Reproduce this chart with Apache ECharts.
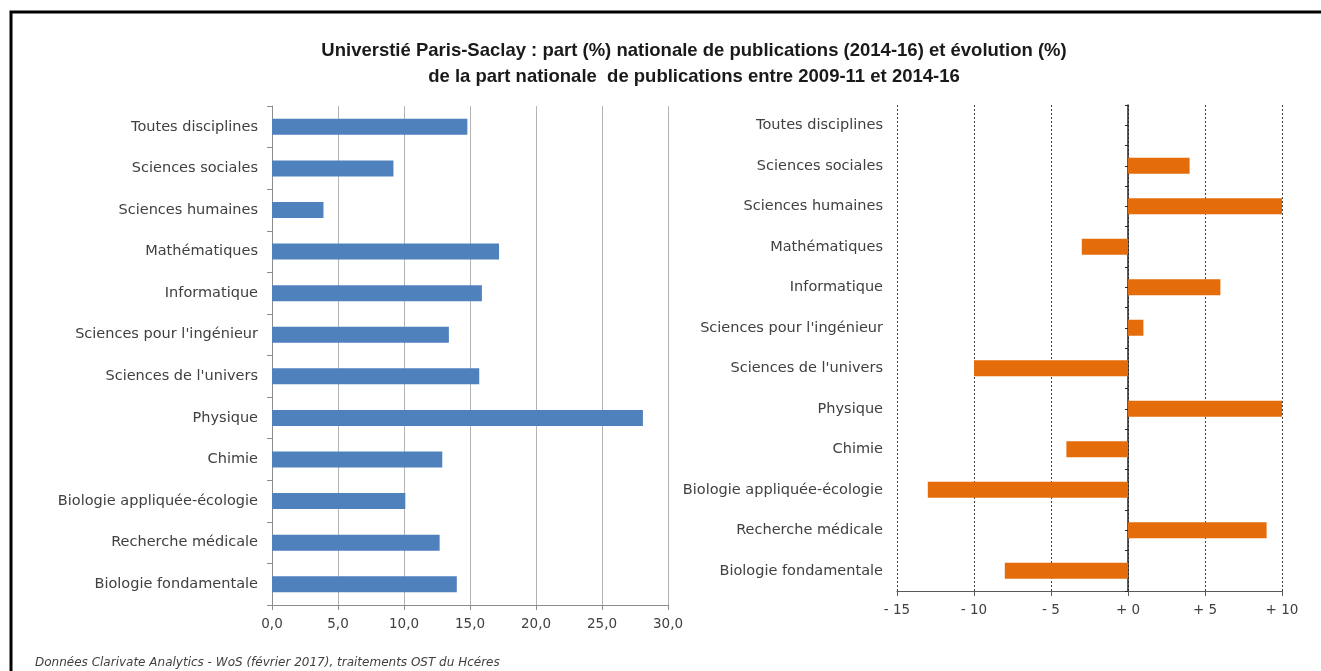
<!DOCTYPE html>
<html>
<head>
<meta charset="utf-8">
<script src="https://cdn.jsdelivr.net/npm/echarts@6/dist/echarts.min.js"></script>
<style>
  html, body { margin: 0; padding: 0; background: #fff; }
  #chart { width: 1321px; height: 671px; }
</style>
</head>
<body>
<div id="chart"></div>
<script>
// Disciplines, listed top to bottom
const disciplines = [
  'Toutes disciplines',
  'Sciences sociales',
  'Sciences humaines',
  'Mathématiques',
  'Informatique',
  "Sciences pour l'ingénieur",
  "Sciences de l'univers",
  'Physique',
  'Chimie',
  'Biologie appliquée-écologie',
  'Recherche médicale',
  'Biologie fondamentale'
];
// National share of publications (%), 2014-16
const shareValues = [14.8, 9.2, 3.9, 17.2, 15.9, 13.4, 15.7, 28.1, 12.9, 10.1, 12.7, 14.0];
// Change (%) of the national share between 2009-11 and 2014-16
const changeValues = [0, 4, 10, -3, 6, 1, -10, 10, -4, -13, 9, -8];

// Tick labels of both value axes
const shareTicks = ['0,0', '5,0', '10,0', '15,0', '20,0', '25,0', '30,0'];
const changeTicks = ['- 15', '- 10', '- 5', '+ 0', '+ 5', '+ 10'];

const titleLines = [
  'Universtié Paris-Saclay : part (%) nationale de publications (2014-16) et évolution (%)',
  'de la part nationale  de publications entre 2009-11 et 2014-16'
];
const sourceNote = 'Données Clarivate Analytics - WoS (février 2017), traitements OST du Hcéres';

const labelFont = '"DejaVu Sans", sans-serif';
const textColor = '#404040';

// category axes run top to bottom
const cats = disciplines.slice().reverse();
const shareData = shareValues.slice().reverse();
const changeData = changeValues.slice().reverse();
const halfSlots = new Array(cats.length * 2).fill('');

const chart = echarts.init(document.getElementById('chart'), null, { renderer: 'canvas' });

chart.setOption({
  backgroundColor: '#fff',
  animation: false,
  graphic: [
    {
      type: 'rect',
      shape: { x: 11, y: 12, width: 1330, height: 700 },
      style: { fill: 'none', stroke: '#000', lineWidth: 3 },
      silent: true
    },
    {
      type: 'text',
      x: 694,
      y: 38,
      style: {
        text: titleLines.join('\n'),
        textAlign: 'center',
        font: 'bold 18.5px "Liberation Sans", sans-serif',
        lineHeight: 26,
        fill: '#1a1a1a'
      }
    },
    {
      type: 'text',
      left: 35,
      top: 657,
      style: {
        text: sourceNote,
        font: 'italic 12px "DejaVu Sans", sans-serif',
        fill: textColor
      }
    }
  ],
  grid: [
    { left: 272, right: 653, top: 106, bottom: 66, containLabel: false },
    { left: 897, right: 39, top: 105, bottom: 80, containLabel: false }
  ],
  xAxis: [
    {
      gridIndex: 0,
      type: 'value',
      min: 0,
      max: 30,
      interval: 5,
      axisLine: { show: true, lineStyle: { color: '#8c8c8c', width: 1 } },
      axisTick: { show: true, length: 5, lineStyle: { color: '#8c8c8c' } },
      axisLabel: {
        margin: 12,
        fontFamily: labelFont,
        fontSize: 13.5,
        color: textColor,
        formatter: v => shareTicks[Math.round(v / 5)]
      },
      splitLine: { show: true, lineStyle: { color: '#b3b3b3', width: 1 } }
    },
    {
      gridIndex: 1,
      type: 'value',
      min: -15,
      max: 10,
      interval: 5,
      axisLine: { show: true, onZero: false, lineStyle: { color: '#595959', width: 1 } },
      axisTick: { show: true, length: 5, lineStyle: { color: '#595959' } },
      axisLabel: {
        margin: 12,
        fontFamily: labelFont,
        fontSize: 13.5,
        color: textColor,
        formatter: v => changeTicks[Math.round((v + 15) / 5)]
      },
      splitLine: { show: true, lineStyle: { color: '#404040', width: 1, type: [2, 2] } }
    }
  ],
  yAxis: [
    {
      gridIndex: 0,
      type: 'category',
      data: cats,
      axisLine: { show: true, lineStyle: { color: '#8c8c8c', width: 1 } },
      axisTick: { show: true, length: 5, interval: 0, lineStyle: { color: '#8c8c8c' } },
      axisLabel: { margin: 14, fontFamily: labelFont, fontSize: 14.5, color: textColor, interval: 0 }
    },
    {
      // labels of the right panel, kept at the panel's left edge
      gridIndex: 1,
      type: 'category',
      data: cats,
      position: 'left',
      axisLine: { show: false, onZero: false },
      axisTick: { show: false },
      axisLabel: { margin: 14, fontFamily: labelFont, fontSize: 14.5, color: textColor, interval: 0 }
    },
    {
      // zero line of the right panel, with ticks every half band
      gridIndex: 1,
      type: 'category',
      data: halfSlots,
      position: 'left',
      axisLine: { show: true, onZero: true, lineStyle: { color: '#262626', width: 1.5 } },
      axisTick: { show: true, length: 3, interval: 0, lineStyle: { color: '#262626' } },
      axisLabel: { show: false }
    }
  ],
  series: [
    {
      type: 'bar',
      xAxisIndex: 0,
      yAxisIndex: 0,
      data: shareData,
      barWidth: 16,
      itemStyle: { color: '#4f81bd' }
    },
    {
      type: 'bar',
      xAxisIndex: 1,
      yAxisIndex: 1,
      data: changeData,
      barWidth: 16,
      itemStyle: { color: '#e46c0a' }
    }
  ]
});
</script>
</body>
</html>
